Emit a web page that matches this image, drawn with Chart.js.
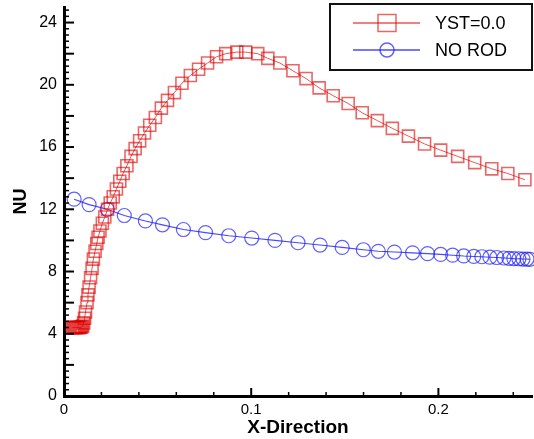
<!DOCTYPE html>
<html>
<head>
<meta charset="utf-8">
<script src="https://cdn.jsdelivr.net/npm/chart.js@4"></script>
<style>
  html, body { margin: 0; padding: 0; background: #fff; }
  canvas { display: block; }
</style>
</head>
<body>
<canvas id="nuChart" width="534" height="439"></canvas>
<script>
// YST=0.0 (red squares)
const rodX = [0.0045, 0.005, 0.0055, 0.006, 0.0065, 0.007, 0.0075, 0.008, 0.0085, 0.009, 0.0095, 0.010,
    0.0105, 0.011, 0.0115, 0.0123, 0.0128, 0.0134, 0.0142, 0.0150, 0.0157, 0.0166,
    0.0175, 0.0182, 0.0192, 0.0205, 0.0218, 0.0233, 0.0247, 0.0263, 0.0280, 0.0298,
    0.0316, 0.0336, 0.0358, 0.0380, 0.0404, 0.0430, 0.0458, 0.0488, 0.0520, 0.0553,
    0.0590, 0.0630, 0.0675, 0.0719, 0.0767, 0.0815, 0.0864, 0.0923, 0.0971, 0.1035,
    0.1089, 0.1153, 0.1223, 0.1293, 0.1363, 0.1438, 0.1518, 0.1593, 0.1674, 0.1754,
    0.1840, 0.1926, 0.2012, 0.2103, 0.2194, 0.2285, 0.2371, 0.2462];
const rodNu = [4.4, 4.4, 4.4, 4.4, 4.4, 4.4, 4.4, 4.4, 4.4, 4.42, 4.45, 4.5,
    4.7, 5.0, 5.4, 6.0, 6.5, 7.0, 7.6, 8.2, 8.8, 9.3,
    9.8, 10.2, 10.6, 11.1, 11.5, 12.0, 12.4, 12.8, 13.3, 13.8,
    14.3, 14.8, 15.4, 15.9, 16.4, 16.9, 17.4, 17.9, 18.5, 19.0,
    19.5, 20.1, 20.6, 21.0, 21.4, 21.8, 22.0, 22.1, 22.1, 22.0,
    21.7, 21.4, 20.9, 20.4, 19.8, 19.3, 18.8, 18.2, 17.7, 17.2,
    16.7, 16.2, 15.8, 15.4, 15.0, 14.6, 14.3, 13.9];

// NO ROD (blue circles)
const noRodX = [0.0054, 0.0134, 0.0231, 0.0322, 0.0435, 0.0526, 0.0638, 0.0756,
    0.0880, 0.1003, 0.1127, 0.1250, 0.1368, 0.1486, 0.1599, 0.1679, 0.1765, 0.1862,
    0.1942, 0.2012, 0.2076, 0.2135, 0.2189, 0.2232, 0.2275, 0.2312, 0.2350, 0.2377,
    0.2403, 0.2430, 0.2452, 0.2473, 0.2489];
const noRodNu = [12.65, 12.3, 12.0, 11.6, 11.25, 11.0, 10.7, 10.5,
    10.3, 10.15, 10.0, 9.85, 9.7, 9.55, 9.4, 9.3, 9.25, 9.2,
    9.15, 9.1, 9.05, 9.0, 8.97, 8.95, 8.92, 8.9, 8.87, 8.85,
    8.83, 8.82, 8.8, 8.8, 8.78];

const seriesNames = ["YST=0.0", "NO ROD"];
const xTicks = [0, 0.1, 0.2];
const yTicks = [0, 4, 8, 12, 16, 20, 24];

const redLine = "rgba(235, 40, 40, 0.8)";
const redMark = "rgba(220, 0, 0, 0.6)";
const blueLine = "rgba(40, 40, 255, 0.85)";
const blueMark = "rgba(30, 30, 255, 0.7)";
const fontFamily = 'Arial, "Liberation Sans", sans-serif';

Chart.defaults.font.family = fontFamily;

function toPoints(xs, ys) {
    return xs.map((x, i) => ({ x: x, y: ys[i] }));
}

// inward tick marks like the original plot (major + minor)
const innerTicks = {
    id: "innerTicks",
    afterDraw(chart) {
        const { ctx, chartArea, scales: { x, y } } = chart;
        ctx.save();
        ctx.strokeStyle = "#000";
        // x axis: minor every 0.02, major every 0.1
        for (let i = 0; i <= 12; i++) {
            const px = x.getPixelForValue(i * 0.02);
            const major = i % 5 === 0;
            ctx.lineWidth = major ? 2 : 1.5;
            ctx.beginPath();
            ctx.moveTo(px, chartArea.bottom);
            ctx.lineTo(px, chartArea.bottom - (major ? 8 : 4));
            ctx.stroke();
        }
        // y axis: minor every 0.4, major every 2
        for (let i = 0; i <= 62; i++) {
            const py = y.getPixelForValue(i * 0.4);
            const major = i % 5 === 0;
            ctx.lineWidth = major ? 2 : 1.5;
            ctx.beginPath();
            ctx.moveTo(chartArea.left, py);
            ctx.lineTo(chartArea.left + (major ? 10 : 5), py);
            ctx.stroke();
        }
        ctx.restore();
    }
};

// boxed legend with line + marker samples
const boxLegend = {
    id: "boxLegend",
    afterDraw(chart) {
        const ctx = chart.ctx;
        const bx = 330, by = 4, bw = 202, bh = 66;
        ctx.save();
        ctx.fillStyle = "#fff";
        ctx.fillRect(bx, by, bw, bh);
        ctx.strokeStyle = "#111";
        ctx.lineWidth = 2;
        ctx.strokeRect(bx, by, bw, bh);

        const rows = [
            { y: by + 19, line: redLine, mark: redMark, shape: "rect" },
            { y: by + 46, line: blueLine, mark: blueMark, shape: "circle" }
        ];
        rows.forEach((r, i) => {
            ctx.strokeStyle = r.line;
            ctx.lineWidth = 1.3;
            ctx.beginPath();
            ctx.moveTo(bx + 23, r.y);
            ctx.lineTo(bx + 90, r.y);
            ctx.stroke();
            ctx.strokeStyle = r.mark;
            ctx.lineWidth = 1.5;
            ctx.beginPath();
            if (r.shape === "rect") {
                ctx.rect(bx + 48, r.y - 8.5, 18, 17);
            } else {
                ctx.arc(bx + 57, r.y, 7, 0, Math.PI * 2);
            }
            ctx.stroke();
            ctx.fillStyle = "#000";
            ctx.font = "18px " + fontFamily;
            ctx.textBaseline = "middle";
            ctx.fillText(seriesNames[i], bx + 105, r.y + 1);
        });
        ctx.restore();
    }
};

new Chart(document.getElementById("nuChart"), {
    type: "scatter",
    data: {
        datasets: [
            {
                label: seriesNames[0],
                data: toPoints(rodX, rodNu),
                showLine: true,
                borderColor: redLine,
                borderWidth: 1,
                pointStyle: "rect",
                pointRadius: 8.5,
                pointBorderColor: redMark,
                pointBorderWidth: 1.6,
                pointBackgroundColor: "rgba(0,0,0,0)"
            },
            {
                label: seriesNames[1],
                data: toPoints(noRodX, noRodNu),
                showLine: true,
                borderColor: blueLine,
                borderWidth: 1.1,
                pointStyle: "circle",
                pointRadius: 7,
                pointBorderColor: blueMark,
                pointBorderWidth: 1.2,
                pointBackgroundColor: "rgba(0,0,0,0)"
            }
        ]
    },
    options: {
        responsive: false,
        animation: false,
        devicePixelRatio: 1,
        clip: false,
        layout: { autoPadding: false, padding: { top: 7, right: 2, left: 0, bottom: 0 } },
        plugins: {
            legend: { display: false },
            tooltip: { enabled: false }
        },
        scales: {
            x: {
                type: "linear",
                min: 0,
                max: 0.25,
                grid: { display: false, drawTicks: false },
                border: { display: true, color: "#000", width: 3 },
                afterBuildTicks: s => { s.ticks = xTicks.map(v => ({ value: v })); },
                afterFit: s => { s.height = 43; },
                ticks: {
                    color: "#000",
                    padding: 5,
                    maxRotation: 0,
                    autoSkip: false,
                    font: { size: 15 },
                    callback: v => String(v)
                },
                title: {
                    display: true,
                    text: "X-Direction",
                    color: "#000",
                    font: { size: 19, weight: "bold" },
                    padding: { top: 0, bottom: 0 }
                }
            },
            y: {
                type: "linear",
                min: 0,
                max: 25,
                grid: { display: false, drawTicks: false },
                border: { display: true, color: "#000", width: 3 },
                afterBuildTicks: s => { s.ticks = yTicks.map(v => ({ value: v })); },
                afterFit: s => {
                    s.width = 64;
                    s.paddingTop = 0;
                    s.paddingBottom = 0;
                },
                ticks: {
                    color: "#000",
                    padding: 7,
                    autoSkip: false,
                    font: { size: 16 },
                    callback: v => String(v)
                },
                title: {
                    display: true,
                    text: "NU",
                    color: "#000",
                    font: { size: 18, weight: "bold" },
                    padding: { top: 10, bottom: 0 }
                }
            }
        }
    },
    plugins: [innerTicks, boxLegend]
});
</script>
</body>
</html>
